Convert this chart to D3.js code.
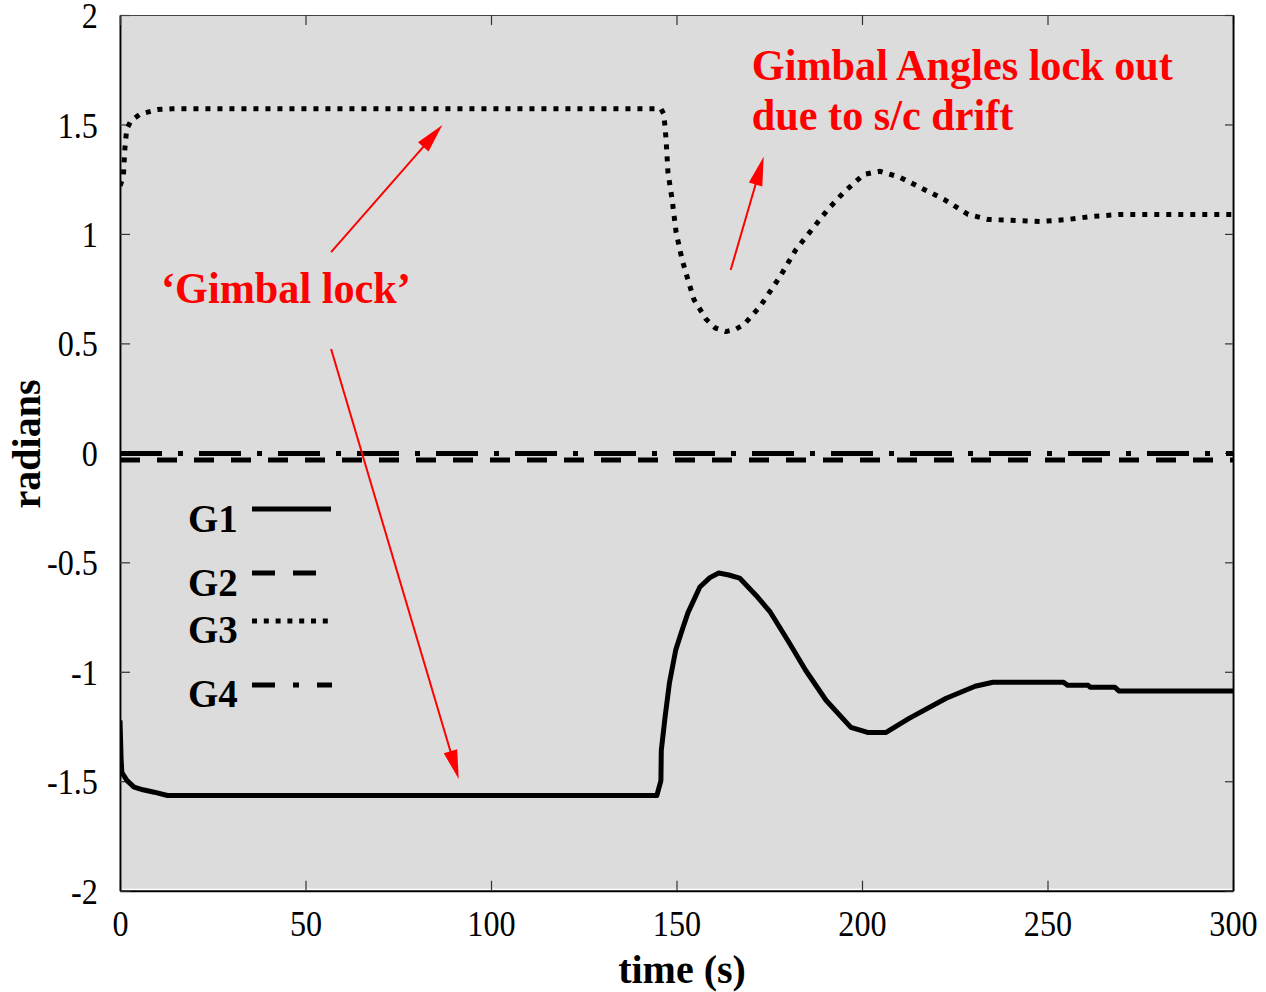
<!DOCTYPE html>
<html>
<head>
<meta charset="utf-8">
<script src="https://cdn.jsdelivr.net/npm/d3@7"></script>
<style>
  html, body { margin: 0; padding: 0; background: #ffffff; }
  svg { display: block; }
</style>
</head>
<body>
<script>
// ---------------- data ----------------
const seriesNames = ["G1", "G2", "G3", "G4"];

const g1Time = [0, 0.3, 0.5, 1.9, 3.8, 6.2, 9.2, 12.8, 144.7, 145.8, 145.9, 146.9, 148.1, 149.8, 151.5, 153.1, 156.3, 159, 161.4, 164.1, 167, 171.4, 175.3, 180.3, 184.8, 190.3, 197, 201.5, 206.5, 212.7, 222.7, 230.5, 235.3, 254.3, 255.4, 261, 261.5, 268.2, 269.3, 300];
const g1Values = [-1.222, -1.40, -1.46, -1.497, -1.527, -1.539, -1.55, -1.565, -1.565, -1.497, -1.36, -1.21, -1.05, -0.90, -0.81, -0.73, -0.613, -0.57, -0.549, -0.558, -0.572, -0.65, -0.728, -0.865, -0.993, -1.13, -1.254, -1.277, -1.277, -1.213, -1.121, -1.066, -1.048, -1.048, -1.062, -1.062, -1.071, -1.071, -1.088, -1.088];

const g2Time = [0, 300];
const g2Values = [-0.033, -0.033];

const g3Time = [0, 0.9, 1.3, 1.8, 2.9, 5.4, 10.1, 14.2, 145.8, 146.6, 147.2, 147.7, 148.8, 149.9, 151.5, 153.1, 154.7, 158, 160.5, 163.3, 166, 168.2, 172.5, 177.9, 182.2, 186.5, 190.8, 195.1, 200.5, 204.9, 210.2, 215.6, 222.1, 228.6, 234, 248, 255.5, 262, 269.5, 300];
const g3Values = [1.22, 1.26, 1.387, 1.478, 1.516, 1.547, 1.568, 1.572, 1.572, 1.547, 1.43, 1.28, 1.16, 1.007, 0.883, 0.79, 0.70, 0.61, 0.57, 0.554, 0.565, 0.586, 0.668, 0.805, 0.929, 1.02, 1.112, 1.19, 1.272, 1.286, 1.259, 1.213, 1.158, 1.089, 1.066, 1.057, 1.066, 1.08, 1.089, 1.089];

const g4Time = [0, 300];
const g4Values = [-0.003, -0.003];

const xTickValues = [0, 50, 100, 150, 200, 250, 300];
const yTickValues = [-2, -1.5, -1, -0.5, 0, 0.5, 1, 1.5, 2];
const xTickLabels = ["0", "50", "100", "150", "200", "250", "300"];
const yTickLabels = ["-2", "-1.5", "-1", "-0.5", "0", "0.5", "1", "1.5", "2"];

const xTitle = "time (s)";
const yTitle = "radians";

const noteTexts = ["Gimbal Angles lock out", "due to s/c drift", "\u2018Gimbal lock\u2019"];
const noteAnchorT = [170.3, 170.3, 11.05];
const noteAnchorV = [1.703, 1.474, 0.684];

const arrowStartT = [56.9, 56.9, 164.6];
const arrowStartV = [0.917, 0.474, 0.835];
const arrowEndT = [86.9, 91.3, 173.5];
const arrowEndV = [1.497, -1.49, 1.353];

// ---------------- layout ----------------
const W = 1266, H = 992;
const x0 = 120, x1 = 1233, yTop = 15, yBot = 890.7;

const svg = d3.select("body").append("svg").attr("width", W).attr("height", H);

const x = d3.scaleLinear().domain([0, 300]).range([x0, x1]);
const y = d3.scaleLinear().domain([-2, 2]).range([yBot, yTop]);

// background
svg.append("rect").attr("x", x0 + 2).attr("y", yTop + 1)
  .attr("width", x1 - x0 - 3).attr("height", yBot - yTop - 3)
  .attr("fill", "#dcdcdc");

svg.append("defs").append("clipPath").attr("id", "clip")
  .append("rect").attr("x", x0).attr("y", yTop).attr("width", x1 - x0 + 1).attr("height", yBot - yTop);

// axes
const serif = "'Liberation Serif', 'Times New Roman', serif";
const tickLen = 10;
const sx = 0.92; // horizontal squeeze of glyphs, as in the reference

const axB = d3.axisBottom(x).tickValues(xTickValues).tickFormat((d, i) => xTickLabels[i]).tickSizeInner(-tickLen).tickSizeOuter(0).tickPadding(20);
const axL = d3.axisLeft(y).tickValues(yTickValues).tickFormat((d, i) => yTickLabels[i]).tickSizeInner(-tickLen).tickSizeOuter(0).tickPadding(24);
const axT = d3.axisTop(x).tickValues(xTickValues).tickFormat("").tickSizeInner(-tickLen).tickSizeOuter(0);
const axR = d3.axisRight(y).tickValues(yTickValues).tickFormat("").tickSizeInner(-8).tickSizeOuter(0);

function styleAxis(g) {
  g.selectAll("path.domain").attr("stroke", "#000").attr("stroke-width", 2);
  g.selectAll(".tick line").attr("stroke", "#333").attr("stroke-width", 1.2);
  g.selectAll(".tick text").attr("font-family", serif).attr("font-size", 35).attr("fill", "#000")
    .attr("transform", `scale(${sx},1)`);
}

const gB = svg.append("g").attr("transform", `translate(0,${yBot})`).call(axB).call(styleAxis);
gB.selectAll(".tick text").attr("dy", "0.71em");
const gL = svg.append("g").attr("transform", `translate(${x0},0)`).call(axL).call(styleAxis);
gL.selectAll(".tick text").attr("dy", "0.36em");
const gT = svg.append("g").attr("transform", `translate(0,${yTop})`).call(axT).call(styleAxis);
gT.selectAll("path.domain").attr("stroke", "#444").attr("stroke-width", 1.2);
const gR = svg.append("g").attr("transform", `translate(${x1},0)`).call(axR).call(styleAxis);

// axis titles
svg.append("text").attr("transform", "translate(682,983)").attr("text-anchor", "middle")
  .attr("font-family", serif).attr("font-weight", "bold").attr("font-size", 40).text(xTitle);
svg.append("text").attr("transform", "translate(40,444) rotate(-90)").attr("text-anchor", "middle")
  .attr("font-family", serif).attr("font-weight", "bold").attr("font-size", 40).text(yTitle);

// series
const line = d3.line().x(d => x(d[0])).y(d => y(d[1]));
const zip = (t, v) => t.map((tt, i) => [tt, v[i]]);
const series = [
  { name: seriesNames[0], data: zip(g1Time, g1Values), dash: null, legDash: null },
  { name: seriesNames[1], data: zip(g2Time, g2Values), dash: "20,17", legDash: "23,18" },
  { name: seriesNames[2], data: zip(g3Time, g3Values), dash: "5,7", legDash: "5,6.8" },
  { name: seriesNames[3], data: zip(g4Time, g4Values), dash: "42,16,5,16", legDash: "23,18,6,18" }
];

const plotG = svg.append("g").attr("clip-path", "url(#clip)");
series.forEach(s => {
  plotG.append("path").datum(s.data).attr("d", line)
    .attr("fill", "none").attr("stroke", "#000").attr("stroke-width", 5)
    .attr("stroke-linejoin", "round")
    .attr("stroke-dasharray", s.dash);
});

// legend
const legTextX = 188, legLineX0 = 252;
const legBase = [532, 596, 643, 707];
const legLineY = [509, 573, 621, 685];
const legLineEnd = [331, 317, 330, 332];
series.forEach((s, i) => {
  svg.append("text").attr("x", legTextX).attr("y", legBase[i])
    .attr("font-family", serif).attr("font-weight", "bold").attr("font-size", 39).text(s.name);
  svg.append("line").attr("x1", legLineX0).attr("x2", legLineEnd[i])
    .attr("y1", legLineY[i]).attr("y2", legLineY[i])
    .attr("stroke", "#000").attr("stroke-width", 5).attr("stroke-dasharray", s.legDash);
});

// annotations
noteTexts.forEach((t, i) => {
  svg.append("text")
    .attr("transform", `translate(${x(noteAnchorT[i])},${y(noteAnchorV[i])}) scale(0.96,1)`)
    .attr("font-family", serif).attr("font-weight", "bold").attr("font-size", 44)
    .attr("fill", "#ff0000").text(t);
});

arrowStartT.forEach((t, i) => {
  const ax = x(t), ay = y(arrowStartV[i]);
  const ex = x(arrowEndT[i]), ey = y(arrowEndV[i]);
  const dx = ex - ax, dy = ey - ay, L = Math.hypot(dx, dy);
  const ux = dx / L, uy = dy / L;
  const hl = 29, hw = 7;
  const bx = ex - ux * hl, by = ey - uy * hl;
  svg.append("line").attr("x1", ax).attr("y1", ay).attr("x2", bx + ux * 2).attr("y2", by + uy * 2)
    .attr("stroke", "#ff0000").attr("stroke-width", 2);
  svg.append("polygon")
    .attr("points", [[ex, ey], [bx - uy * hw, by + ux * hw], [bx + uy * hw, by - ux * hw]].map(p => p.join(",")).join(" "))
    .attr("fill", "#ff0000");
});
</script>
</body>
</html>
